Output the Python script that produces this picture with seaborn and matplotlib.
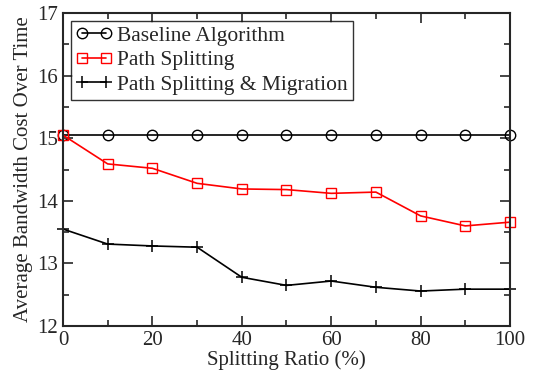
import pandas as pd
import seaborn as sns
import matplotlib.pyplot as plt
from matplotlib.ticker import MultipleLocator

ratio = [0, 10, 20, 30, 40, 50, 60, 70, 80, 90, 100]
baseline = [15.05] * 11
path_split = [15.05, 14.59, 14.52, 14.28, 14.19, 14.18, 14.12, 14.14, 13.76, 13.60, 13.66]
split_migr = [13.55, 13.31, 13.28, 13.26, 12.78, 12.65, 12.72, 12.62, 12.56, 12.59, 12.59]

sns.set_style('ticks')
plt.rcParams['font.family'] = ['Liberation Serif', 'DejaVu Serif']

fig = plt.figure(figsize=(5.36, 3.71), dpi=100)
ax = fig.add_axes([0.1175, 0.121, 0.834, 0.844])

df = pd.DataFrame({'ratio': ratio, 'base': baseline, 'ps': path_split, 'psm': split_migr})

sns.lineplot(data=df, x='ratio', y='base', ax=ax, color='black', lw=1.2,
             marker='o', markersize=7.5, markerfacecolor='none', markeredgecolor='black',
             markeredgewidth=1.0, label='Baseline Algorithm', clip_on=False)
sns.lineplot(data=df, x='ratio', y='ps', ax=ax, color='red', lw=1.2,
             marker='s', markersize=7, markerfacecolor='none', markeredgecolor='red',
             markeredgewidth=1.0, label='Path Splitting', clip_on=False)
sns.lineplot(data=df, x='ratio', y='psm', ax=ax, color='black', lw=1.2,
             marker='+', markersize=9, markeredgewidth=1.1, markeredgecolor='black',
             label='Path Splitting & Migration', clip_on=False)

ax.set_xlim(0, 100)
ax.set_ylim(12, 17)
ax.xaxis.set_major_locator(MultipleLocator(20))
ax.xaxis.set_minor_locator(MultipleLocator(10))
ax.yaxis.set_major_locator(MultipleLocator(1))
ax.yaxis.set_minor_locator(MultipleLocator(0.5))
ax.tick_params(which='both', direction='in', top=True, right=True, labelsize=15, width=1.2)
ax.tick_params(which='major', length=7)
ax.tick_params(which='minor', length=4)
for s in ax.spines.values():
    s.set_linewidth(1.5)

ax.set_xlabel('Splitting Ratio (%)', fontsize=15, labelpad=0)
ax.set_ylabel('Average Bandwidth Cost Over Time', fontsize=15, labelpad=3)

leg = ax.legend(loc='upper left', fontsize=15.5, frameon=True, fancybox=False,
                edgecolor='black', borderaxespad=0.35, handlelength=1.7, numpoints=2,
                handletextpad=0.2, labelspacing=0.2, borderpad=0.25)
leg.get_frame().set_linewidth(1.0)

plt.savefig('out.png', dpi=100)
